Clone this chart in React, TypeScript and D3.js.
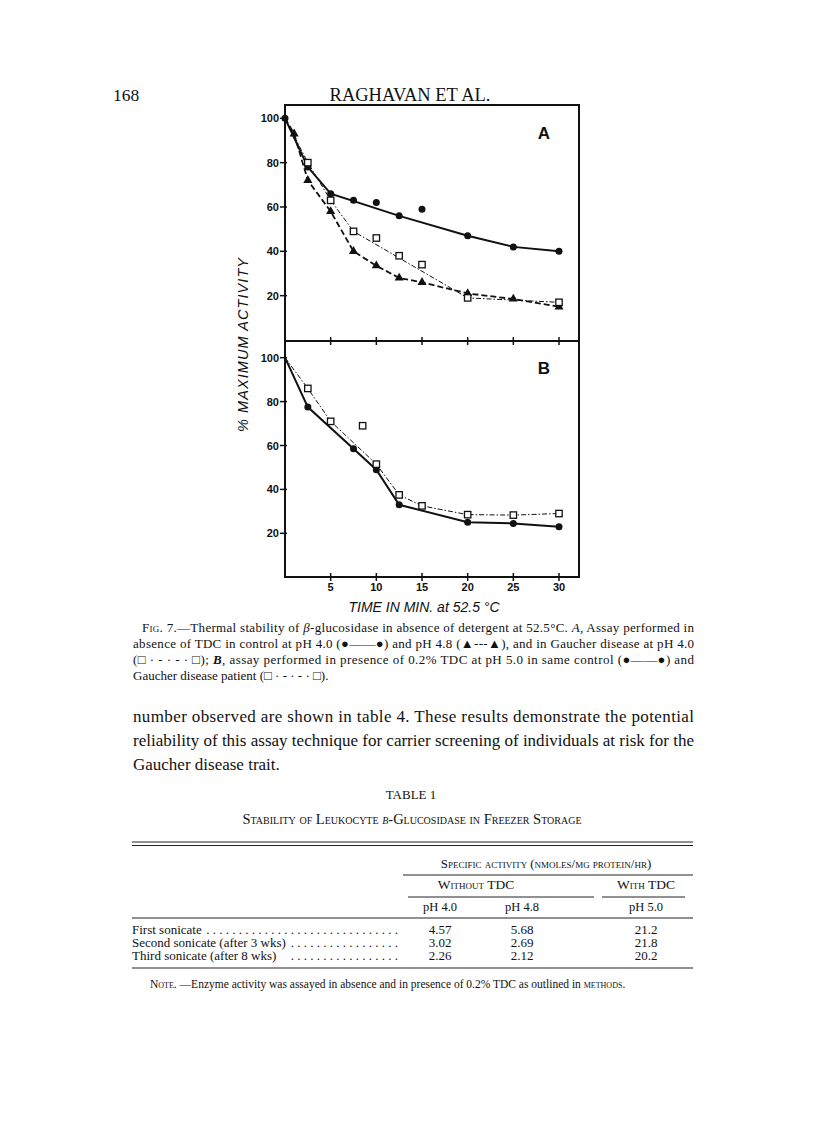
import React from 'react';
import * as d3 from 'd3';

// panel A: absence of TDC
const aCtrlT = [0, 2.5, 5, 7.5, 10, 12.5, 15, 20, 25, 30];
const aCtrlV = [100, 78, 66, 63, 62, 56, 59, 47, 42, 40];
const aCtrlFitT = [0, 2.5, 5, 12.5, 20, 25, 30];
const aCtrlFitV = [100, 78, 66, 56, 47, 42, 40];
const aPh48T = [1, 2.5, 5, 7.5, 10, 12.5, 15, 20, 25, 30];
const aPh48V = [93, 72, 58, 40, 33.5, 28, 26, 21, 18.5, 15];
const aPh48LineT = [0, 1, 2.5, 5, 7.5, 10, 12.5, 15, 20, 25, 30];
const aPh48LineV = [100, 93, 72, 58, 40, 33.5, 28, 26, 21, 18.5, 15];
const aGaucherT = [2.5, 5, 7.5, 10, 12.5, 15, 20, 30];
const aGaucherV = [80, 63, 49, 46, 38, 34, 19, 17];
const aGaucherFitT = [0, 2.5, 5, 7.5, 20, 25, 30];
const aGaucherFitV = [100, 80, 63, 49, 19, 18, 17];

// panel B: 0.2% TDC, pH 5.0
const bCtrlT = [2.5, 7.5, 10, 12.5, 20, 25, 30];
const bCtrlV = [77.5, 58.5, 49, 33, 25, 24.5, 23];
const bCtrlFitT = [0, 2.5, 7.5, 10, 12.5, 20, 25, 30];
const bCtrlFitV = [100, 77.5, 58.5, 49, 33, 25, 24.5, 23];
const bGaucherT = [2.5, 5, 8.5, 10, 12.5, 15, 20, 25, 30];
const bGaucherV = [86, 71, 69, 51.5, 37.5, 32.5, 28.5, 28.3, 29];
const bGaucherFitT = [0, 2.5, 5, 10, 12.5, 15, 20, 25, 30];
const bGaucherFitV = [100, 86, 71, 51.5, 37.5, 32.5, 28.5, 28.3, 29];

const xTicks = [5, 10, 15, 20, 25, 30];
const yTicks = [20, 40, 60, 80, 100];

// table
const rowLabels = ['First sonicate', 'Second sonicate (after 3 wks)', 'Third sonicate (after 8 wks)'];
const ph40 = ['4.57', '3.02', '2.26'];
const ph48 = ['5.68', '2.69', '2.12'];
const ph50 = ['21.2', '21.8', '20.2'];

const zip = (t: number[], v: number[]) => t.map((x, i) => ({ t: x, v: v[i] }));

const serif = 'Liberation Serif, Times New Roman, serif';
const sans = 'Liberation Sans, Arial, sans-serif';

const x = d3.scaleLinear().domain([0, 30]).range([285, 559]);
const yA = d3.scaleLinear().domain([0, 100]).range([340, 118.3]);
const yB = d3.scaleLinear().domain([0, 100]).range([577.2, 357.7]);

const Line = ({ t, v, y, dash, w }: any) => {
  const gen = d3.line<any>().x(d => x(d.t)).y(d => y(d.v));
  return <path d={gen(zip(t, v)) || ''} fill="none" stroke="#111" strokeWidth={w} strokeDasharray={dash} />;
};

const tri = d3.symbol().type(d3.symbolTriangle).size(36)();

const Marks = ({ t, v, y, kind }: any) => (
  <g>
    {zip(t, v).map((d, i) => {
      const cx = x(d.t), cy = y(d.v);
      if (kind === 'circle') return <circle key={i} cx={cx} cy={cy} r={3.5} fill="#111" />;
      if (kind === 'tri') return <path key={i} d={tri || ''} transform={`translate(${cx},${cy})`} fill="#111" />;
      return <rect key={i} x={cx - 3.2} y={cy - 3.2} width={6.4} height={6.4} fill="#fff" stroke="#111" strokeWidth={1.3} />;
    })}
  </g>
);

const YAxis = ({ y }: any) => (
  <g>
    {yTicks.map(tk => (
      <g key={tk}>
        <line x1={280} x2={287} y1={y(tk)} y2={y(tk)} stroke="#111" strokeWidth={1.5} />
        <text x={279} y={y(tk) + 4} textAnchor="end" fontFamily={sans} fontWeight="bold" fontSize={11} fill="#111">{tk}</text>
      </g>
    ))}
  </g>
);

const XTicks = ({ y0 }: any) => (
  <g>
    {xTicks.map(tk => (
      <line key={tk} x1={x(tk)} x2={x(tk)} y1={y0 - 4} y2={y0 + 4} stroke="#111" strokeWidth={1.5} />
    ))}
  </g>
);

const JLine = ({ x0, x1, y, size, children, justify = true }: any) => (
  <text x={x0} y={y} fontFamily={serif} fontSize={size} fill="#111"
    textLength={justify ? x1 - x0 : undefined} lengthAdjust="spacing">
    {children}
  </text>
);

const sc = { fontVariant: 'small-caps' } as React.CSSProperties;

export default function App() {
  const capY = [632, 648, 664, 680];
  const bodyY = [722, 746, 770];
  const rowY = [934, 947, 960];
  return (
    <div style={{ position: 'absolute', left: 0, top: 0 }}>
      <svg width={816} height={1122} viewBox="0 0 816 1122" style={{ display: 'block', background: '#fff' }}>
        {/* running head */}
        <text x={113} y={101} fontFamily={serif} fontSize={17.5} fill="#111">168</text>
        <text x={410} y={101} textAnchor="middle" fontFamily={serif} fontSize={18.5} fill="#111">RAGHAVAN ET AL.</text>

        {/* frame */}
        <rect x={285} y={105} width={294} height={472} fill="none" stroke="#111" strokeWidth={2} />
        <line x1={285} x2={579} y1={341} y2={341} stroke="#111" strokeWidth={2} />
        <XTicks y0={341} />
        <XTicks y0={577} />
        <YAxis y={yA} />
        <YAxis y={yB} />

        {xTicks.map(tk => (
          <text key={tk} x={x(tk)} y={591} textAnchor="middle" fontFamily={sans} fontWeight="bold" fontSize={11} fill="#111">{tk}</text>
        ))}
        <text x={424} y={612} textAnchor="middle" fontFamily={sans} fontStyle="italic" fontSize={14} fill="#111">TIME IN MIN. at 52.5 °C</text>
        <text transform="translate(248,345) rotate(-90)" textAnchor="middle" fontFamily={sans} fontStyle="italic" fontSize={14.5}
          fill="#111" textLength={174} lengthAdjust="spacing">% MAXIMUM  ACTIVITY</text>

        <text x={544} y={139} textAnchor="middle" fontFamily={sans} fontWeight="bold" fontSize={17} fill="#111">A</text>
        <text x={544} y={374} textAnchor="middle" fontFamily={sans} fontWeight="bold" fontSize={17} fill="#111">B</text>

        {/* panel A */}
        <Line t={aGaucherFitT} v={aGaucherFitV} y={yA} dash="5,2,1.5,2" w={1} />
        <Line t={aPh48LineT} v={aPh48LineV} y={yA} dash="6,3" w={1.8} />
        <Line t={aCtrlFitT} v={aCtrlFitV} y={yA} w={2} />
        <Marks t={aCtrlT} v={aCtrlV} y={yA} kind="circle" />
        <Marks t={aPh48T} v={aPh48V} y={yA} kind="tri" />
        <Marks t={aGaucherT} v={aGaucherV} y={yA} kind="square" />

        {/* panel B */}
        <Line t={bGaucherFitT} v={bGaucherFitV} y={yB} dash="5,2,1.5,2" w={1} />
        <Line t={bCtrlFitT} v={bCtrlFitV} y={yB} w={2} />
        <Marks t={bCtrlT} v={bCtrlV} y={yB} kind="circle" />
        <Marks t={bGaucherT} v={bGaucherV} y={yB} kind="square" />

        {/* caption */}
        <JLine x0={142} x1={694} y={capY[0]} size={13}>
          F<tspan style={sc}>ig</tspan>. 7.—Thermal stability of <tspan fontStyle="italic">β</tspan>-glucosidase in absence of detergent at 52.5°C. <tspan fontStyle="italic">A</tspan>, Assay performed in
        </JLine>
        <JLine x0={133} x1={694} y={capY[1]} size={13}>
          absence of TDC in control at pH 4.0 (●——●) and pH 4.8 (▲---▲), and in Gaucher disease at pH 4.0
        </JLine>
        <JLine x0={133} x1={694} y={capY[2]} size={13}>
          (□ · - · - · □); <tspan fontStyle="italic" fontWeight="bold">B</tspan>, assay performed in presence of 0.2% TDC at pH 5.0 in same control (●——●) and
        </JLine>
        <JLine x0={133} x1={694} y={capY[3]} size={13} justify={false}>
          Gaucher disease patient (□ · - · - · □).
        </JLine>

        {/* body text */}
        <JLine x0={133} x1={694} y={bodyY[0]} size={17}>
          number observed are shown in table 4. These results demonstrate the potential
        </JLine>
        <JLine x0={133} x1={694} y={bodyY[1]} size={17}>
          reliability of this assay technique for carrier screening of individuals at risk for the
        </JLine>
        <JLine x0={133} x1={694} y={bodyY[2]} size={17} justify={false}>
          Gaucher disease trait.
        </JLine>

        {/* table */}
        <text x={411} y={799} textAnchor="middle" fontFamily={serif} fontSize={13} fill="#111">TABLE 1</text>
        <text x={412} y={824} textAnchor="middle" fontFamily={serif} fontSize={14.5} fill="#111" style={sc}>
          Stability of Leukocyte <tspan fontStyle="italic">β</tspan>-Glucosidase in Freezer Storage
        </text>
        <line x1={132} x2={693} y1={842} y2={842} stroke="#222" strokeWidth={1} />
        <line x1={132} x2={693} y1={845.5} y2={845.5} stroke="#222" strokeWidth={1} />
        <text x={546} y={868} textAnchor="middle" fontFamily={serif} fontSize={12.8} fill="#111" style={sc}>
          Specific activity (nmoles/mg protein/hr)
        </text>
        <line x1={403} x2={693} y1={875} y2={875} stroke="#222" strokeWidth={1} />
        <text x={476} y={889} textAnchor="middle" fontFamily={serif} fontSize={13.5} fill="#111" style={sc}>Without TDC</text>
        <text x={646} y={889} textAnchor="middle" fontFamily={serif} fontSize={13.5} fill="#111" style={sc}>With TDC</text>
        <line x1={408} x2={594} y1={897} y2={897} stroke="#222" strokeWidth={1} />
        <line x1={602} x2={685} y1={897} y2={897} stroke="#222" strokeWidth={1} />
        <text x={440} y={911} textAnchor="middle" fontFamily={serif} fontSize={12.5} fill="#111">pH 4.0</text>
        <text x={522} y={911} textAnchor="middle" fontFamily={serif} fontSize={12.5} fill="#111">pH 4.8</text>
        <text x={646} y={911} textAnchor="middle" fontFamily={serif} fontSize={12.5} fill="#111">pH 5.0</text>
        <line x1={132} x2={693} y1={918} y2={918} stroke="#222" strokeWidth={1} />
        {rowLabels.map((lab, i) => (
          <g key={lab}>
            <text x={132} y={rowY[i]} fontFamily={serif} fontSize={13} fill="#111">{lab}</text>
            <text x={398} y={rowY[i]} textAnchor="end" fontFamily={serif} fontSize={13} fill="#111">
              {' . . . . . . . . . . . . . . . . . . . . . . . . . . . . . .'.slice(0, [62, 34, 34][i])}
            </text>
            <text x={440} y={rowY[i]} textAnchor="middle" fontFamily={serif} fontSize={13} fill="#111">{ph40[i]}</text>
            <text x={522} y={rowY[i]} textAnchor="middle" fontFamily={serif} fontSize={13} fill="#111">{ph48[i]}</text>
            <text x={646} y={rowY[i]} textAnchor="middle" fontFamily={serif} fontSize={13} fill="#111">{ph50[i]}</text>
          </g>
        ))}
        <line x1={132} x2={693} y1={968} y2={968} stroke="#222" strokeWidth={1} />
        <text x={150} y={988} fontFamily={serif} fontSize={11.5} fill="#111">
          <tspan style={sc}>Note</tspan>. —Enzyme activity was assayed in absence and in presence of 0.2% TDC as outlined in <tspan style={sc}>methods</tspan>.
        </text>
      </svg>
    </div>
  );
}
